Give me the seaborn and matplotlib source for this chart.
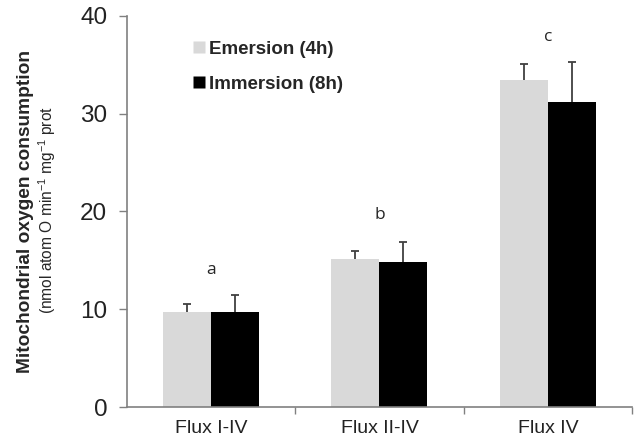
import pandas as pd
import seaborn as sns
import matplotlib.pyplot as plt
from matplotlib.lines import Line2D

# data
fluxes = ["Flux I-IV", "Flux II-IV", "Flux IV"]
conditions = ["Emersion (4h)", "Immersion (8h)"]
emersion = [9.7, 15.1, 33.4]
immersion = [9.7, 14.8, 31.2]
emersion_err = [0.8, 0.9, 1.7]
immersion_err = [1.8, 2.1, 4.1]
letters = ["a", "b", "c"]
letter_y = [14.0, 19.6, 37.8]

df = pd.DataFrame({
    "flux": fluxes * 2,
    "condition": [conditions[0]] * 3 + [conditions[1]] * 3,
    "value": emersion + immersion,
    "err": emersion_err + immersion_err,
})

sns.set_style("white")
plt.rcParams["font.family"] = ["Liberation Sans", "DejaVu Sans"]
plt.rcParams["mathtext.fontset"] = "custom"
plt.rcParams["mathtext.rm"] = "Liberation Sans"
plt.rcParams["mathtext.default"] = "rm"

fig = plt.figure(figsize=(6.34, 4.41), dpi=100)
ax = fig.add_axes([0.2, 0.077, 0.797, 0.887])

colors = {conditions[0]: "#d9d9d9", conditions[1]: "#000000"}
sns.barplot(data=df, x="flux", y="value", hue="condition", palette=colors,
            width=0.57, edgecolor="none", errorbar=None, legend=False, ax=ax)

# upward-only error bars on the bars seaborn drew; hide the lower cap
for patch, (_, row) in zip(list(ax.patches), df.iterrows()):
    cx = patch.get_x() + patch.get_width() / 2
    eb = ax.errorbar(cx, row["value"], yerr=[[0], [row["err"]]], fmt="none",
                     ecolor="#404040", elinewidth=1.3, capsize=3, capthick=1.3)
    eb[1][0].set_visible(False)

for i, (lab, ly) in enumerate(zip(letters, letter_y)):
    ax.text(i, ly, lab, ha="center", va="center", fontsize=12.5,
            family=["Open Sans", "DejaVu Sans"])

ax.set_ylim(0, 40)
ax.set_xlim(-0.5, 2.5)
ax.set_yticks([0, 10, 20, 30, 40])
ax.tick_params(axis="y", labelsize=17.5, length=6, width=1, color="#808080",
               direction="out", left=True, pad=8, labelcolor="#222222")
ax.tick_params(axis="x", labelsize=14, length=0, pad=9, labelcolor="#222222")
ax.set_xticks([0.5, 1.5, 2.5], minor=True)
ax.tick_params(axis="x", which="minor", length=5, width=1, color="#808080",
               direction="out", bottom=True)

for side in ["top", "right"]:
    ax.spines[side].set_visible(False)
for side in ["left", "bottom"]:
    ax.spines[side].set_color("#808080")
    ax.spines[side].set_linewidth(1.2)

ax.set_xlabel("")
ax.set_ylabel("")
fig.text(0.040, 0.52, "Mitochondrial oxygen consumption", rotation=90,
         ha="center", va="center", fontsize=13.75, fontweight="bold")
fig.text(0.074, 0.523, "(nmol atom O min$^{-1}$ mg$^{-1}$ prot", rotation=90,
         ha="center", va="center", fontsize=11.2)

handles = [Line2D([], [], marker="s", linestyle="none", markersize=8.5,
                  markerfacecolor=colors[c], markeredgecolor="none")
           for c in conditions]
leg = ax.legend(handles, conditions, loc="upper left", bbox_to_anchor=(0.1, 0.965),
                frameon=False, handletextpad=0.0, handlelength=1.1,
                labelspacing=0.95, borderaxespad=0.2,
                prop={"weight": "bold", "size": 13.5})

fig.savefig("out.png", dpi=100)
